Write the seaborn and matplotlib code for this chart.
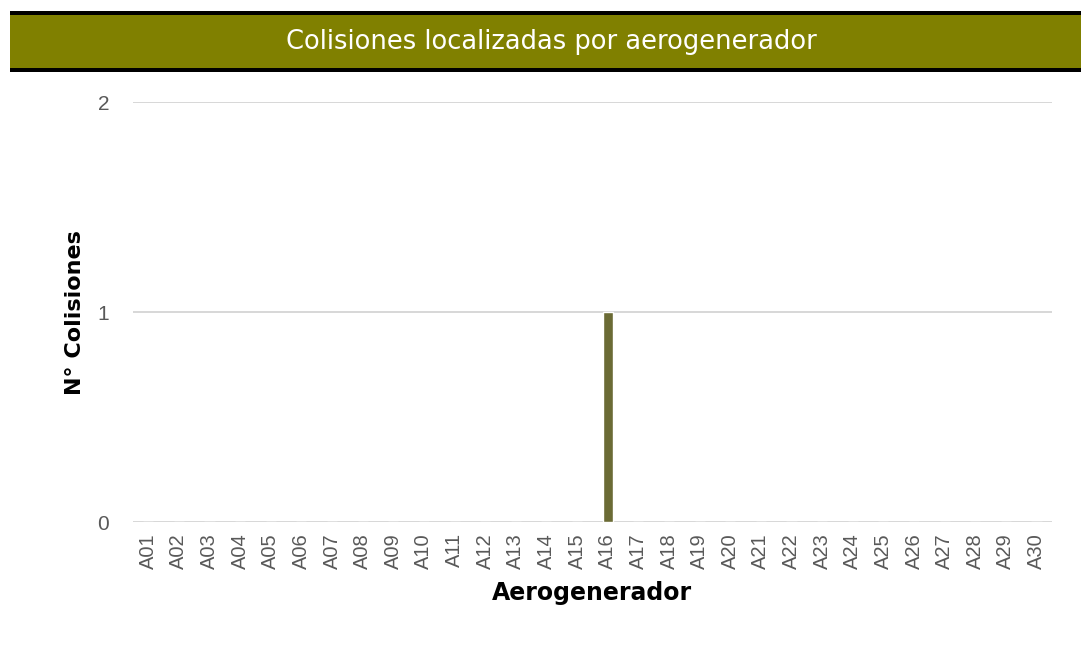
import pandas as pd
import numpy as np
import matplotlib.pyplot as plt
import seaborn as sns
from matplotlib.patches import Rectangle

# Data
aerogeneradores = ['A%02d' % i for i in range(1, 31)]
colisiones = [0, 0, 0, 0, 0, 0, 0, 0, 0, 0,
              0, 0, 0, 0, 0, 1, 0, 0, 0, 0,
              0, 0, 0, 0, 0, 0, 0, 0, 0, 0]

dataFrame = pd.DataFrame({'Aerogenerador': aerogeneradores, 'Colisiones': colisiones})

sns.set_style('white')
plt.rcParams['font.family'] = ['DejaVu Sans']

fig = plt.figure(figsize=(10.81, 6.47), dpi=100)
ax = fig.add_axes([0.123, 0.193, 0.850, 0.649])

sns.barplot(data=dataFrame, x='Aerogenerador', y='Colisiones', color='#6B6B35',
            width=0.33, saturation=1, ax=ax, zorder=3)

ax.set_ylim(0, 2)
ax.set_yticks([0, 1, 2])
ax.set_xlim(-0.5, 29.5)
ax.grid(axis='y', color='#D4D4D4', linewidth=1.3, zorder=0)
sns.despine(ax=ax, left=True, bottom=True)
ax.tick_params(axis='both', length=0)
ax.tick_params(axis='y', pad=17)
ax.tick_params(axis='x', pad=8)

for lbl in ax.get_yticklabels():
    lbl.set_fontfamily('Liberation Sans')
    lbl.set_fontsize(15)
    lbl.set_color('#595959')
for lbl in ax.get_xticklabels():
    lbl.set_fontfamily('Liberation Sans')
    lbl.set_fontsize(14.5)
    lbl.set_color('#595959')
    lbl.set_rotation(90)

ax.set_xlabel('Aerogenerador', fontsize=17, fontweight='bold', color='black', labelpad=9)
ax.set_ylabel('N° Colisiones', fontsize=16, fontweight='bold', color='black', labelpad=9)

# Title band
fig.patches.append(Rectangle((0.00925, 0.8887), 1.0, 0.0943, transform=fig.transFigure,
                             facecolor='black', edgecolor='none', zorder=0))
fig.patches.append(Rectangle((0.00925, 0.8949), 1.0, 0.0819, transform=fig.transFigure,
                             facecolor='#808000', edgecolor='none', zorder=1))
fig.text(0.51, 0.935, 'Colisiones localizadas por aerogenerador', color='white',
         fontsize=18.5, ha='center', va='center')

plt.savefig('out.png', dpi=100)
